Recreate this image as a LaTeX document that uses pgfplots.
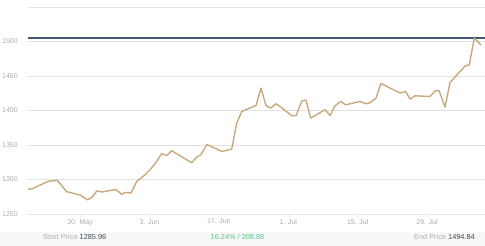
\documentclass[border=0pt]{standalone}
\usepackage{pgfplots}
\pgfplotsset{compat=1.18}
\usepackage{fontspec}
\setmainfont{Liberation Sans}
\definecolor{linec}{HTML}{C8A97C}
\definecolor{maxc}{HTML}{3F5A6C}
\definecolor{gridc}{HTML}{E2E2E2}
\definecolor{xaxc}{HTML}{E3E7EE}
\definecolor{tickc}{HTML}{ABABAB}
\definecolor{bandc}{HTML}{F7F7F7}
\definecolor{labc}{HTML}{B0B0B0}
\definecolor{valc}{HTML}{3C4A55}
\definecolor{greenc}{HTML}{55C98A}
\begin{document}
\begin{tikzpicture}
\useasboundingbox (0,0) rectangle (485bp,246bp);
\fill[bandc] (0,0) rectangle (485bp,14bp);
\begin{axis}[
  at={(28bp,32bp)}, anchor=south west,
  scale only axis, width=457bp, height=207bp,
  xmin=-10.5, xmax=81.7, ymin=1250, ymax=1550,
  axis x line*=bottom, axis y line*=left,
  separate axis lines,
  y axis line style={draw=none},
  x axis line style={draw=xaxc, line width=0.9pt, -},
  ytick={1250,1300,1350,1400,1450,1500,1550},
  yticklabels={1250,1300,1350,1400,1450,1500,{}},
  ytick style={draw=none},
  ymajorgrids, grid style={gridc, line width=0.7pt},
  xtick={0,14,28,42,56,70},
  xticklabels={20. May,3. Jun,17. Jun,1. Jul,15. Jul,29. Jul},
  tick align=outside, major tick length=3bp,
  xtick style={draw=xaxc, line width=0.8pt},
  tick label style={font=\fontsize{7}{8}\selectfont, text=tickc},
  yticklabel style={anchor=west, xshift=-23bp, inner sep=0pt},
  xticklabel style={inner sep=0pt, yshift=-2bp},
  /pgf/number format/assume math mode=true,
  clip=false,
]
\addplot[maxc, line width=1.2pt] coordinates {(-10.5,1505) (81.7,1505)};
\addplot[linec, line width=1.4pt, line join=round] coordinates {
(-10.49,1285.96) (-9.74,1286.2) (-6.52,1297.2) (-4.58,1298.7) (-2.68,1282.3)
(0,1277.5) (1.47,1270.7) (2.36,1274.0) (3.37,1283.3) (4.50,1281.9)
(7.20,1285.6) (8.41,1278.4) (9.08,1281.3) (10.29,1280.4) (11.44,1297.2)
(13.11,1306.9) (14.12,1314.2) (15.13,1322.9) (16.48,1337.3) (17.49,1334.9)
(18.50,1341.7) (22.53,1324.3) (23.54,1332.6) (24.41,1335.9) (25.56,1350.8)
(28.59,1340.7) (30.60,1344.1) (31.61,1381.8) (32.62,1398.6) (35.51,1407.3)
(36.51,1432.5) (37.52,1406.9) (38.47,1403.5) (39.54,1409.8) (40.35,1405.8)
(42.71,1392.4) (43.57,1392.4) (44.72,1413.7) (45.59,1415.1) (46.54,1389.0)
(49.43,1401.1) (50.43,1392.8) (51.44,1406.9) (52.59,1413.1) (53.60,1408.3)
(56.49,1413.1) (57.70,1409.8) (58.50,1411.2) (59.71,1418.0) (60.72,1439.2)
(62.54,1432.5) (64.56,1425.3) (65.70,1427.6) (66.57,1416.6) (67.58,1421.3)
(70.61,1420.3) (71.62,1428.2) (72.42,1429.0) (73.63,1405.0) (74.64,1440.6)
(77.67,1464.4) (78.53,1466.2) (79.54,1505.0) (80.89,1494.84)
};
\end{axis}
\node[anchor=west, inner sep=0pt, font=\fontsize{7.4}{8}\selectfont] at (43bp,9.5bp) {\textcolor{labc}{Start Price} \textcolor{valc}{1285.96}};
\node[inner sep=0pt, font=\fontsize{7.4}{8}\selectfont, text=greenc] at (237.5bp,9.5bp) {16.24\% / 208.88};
\node[anchor=east, inner sep=0pt, font=\fontsize{7.4}{8}\selectfont] at (475bp,9.5bp) {\textcolor{labc}{End Price} \textcolor{valc}{1494.84}};
\end{tikzpicture}
\end{document}
